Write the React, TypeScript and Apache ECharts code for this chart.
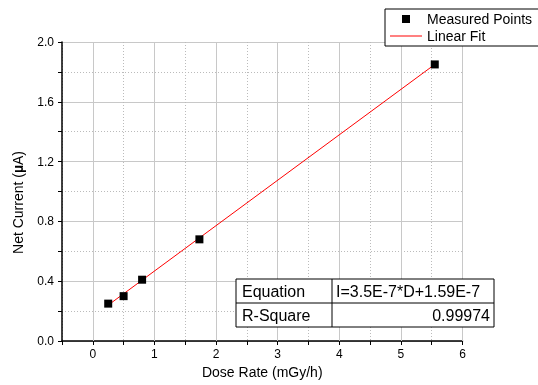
import React, { useEffect, useRef } from "react";
import * as echarts from "echarts";

const doseRate = [0.25, 0.5, 0.8, 1.73, 5.55];
const netCurrent = [0.25, 0.3, 0.41, 0.68, 1.85];
const fitDose = [0.25, 5.55];
const fitCurrent = [0.24, 1.85];
const xMajorTicks = [0, 1, 2, 3, 4, 5, 6];
const tableLabels = ["Equation", "R-Square"];
const tableValues = ["I=3.5E-7*D+1.59E-7", "0.99974"];

const FONT = "'Liberation Sans', Arial, sans-serif";

export default function App() {
  const ref = useRef<HTMLDivElement>(null);
  useEffect(() => {
    if (!ref.current) return;
    const chart = echarts.init(ref.current, null, { renderer: "svg" });
    const tx = 236, ty = 279, tw = 258, th = 48, tc = 96;
    chart.setOption({
      animation: false,
      textStyle: { fontFamily: FONT, color: "#000" },
      grid: { left: 62, right: 75.5, top: 42, bottom: 44, containLabel: false },
      legend: {
        orient: "vertical",
        left: 385,
        top: 9,
        padding: [3, 12, 3, 5],
        itemGap: 3,
        itemWidth: 32,
        itemHeight: 8,
        backgroundColor: "#fff",
        borderColor: "#000",
        borderWidth: 1,
        borderRadius: 0,
        textStyle: { fontSize: 14, color: "#000", fontFamily: FONT },
        data: [
          { name: "Measured Points", icon: "path://M0,0H10V10H0Z", itemStyle: { color: "#000", opacity: 1 } },
          { name: "Linear Fit", icon: "path://M0,0H32V1H0Z", itemStyle: { color: "#ff0000", opacity: 1 } },
        ],
      },
      xAxis: {
        type: "value",
        min: -0.5,
        max: 6,
        interval: 0.5,
        name: "Dose Rate (mGy/h)",
        nameLocation: "middle",
        nameGap: 18,
        nameTextStyle: { fontSize: 14, color: "#000", fontFamily: FONT },
        axisLine: { show: true, onZero: false, lineStyle: { color: "#000", width: 1.5 } },
        axisTick: { show: true, length: 4, lineStyle: { color: "#000" } },
        axisLabel: {
          fontSize: 12,
          color: "#000",
          margin: 7,
          formatter: (v: number) => (Math.abs(v - Math.round(v)) < 1e-6 && v >= 0 ? String(Math.round(v)) : ""),
        },
        splitLine: { show: true, lineStyle: { color: "#bbbbbb", type: [1, 2], width: 1 } },
      },
      yAxis: {
        type: "value",
        min: 0,
        max: 2,
        interval: 0.4,
        name: "Net Current ({b|µ}A)",
        nameLocation: "middle",
        nameGap: 37,
        nameTextStyle: {
          fontSize: 14,
          color: "#000",
          fontFamily: FONT,
          padding: [0, 22, 0, 0],
          rich: { b: { fontSize: 14, fontWeight: "bold", fontFamily: FONT, color: "#000" } },
        },
        axisLine: { show: true, onZero: false, lineStyle: { color: "#000", width: 1.5 } },
        axisTick: { show: true, length: 4, lineStyle: { color: "#000" } },
        minorTick: { show: true, splitNumber: 2, length: 4, lineStyle: { color: "#000" } },
        axisLabel: { fontSize: 12, color: "#000", margin: 8, formatter: (v: number) => v.toFixed(1) },
        splitLine: { show: true, lineStyle: { color: "#c8c8c8", width: 1 } },
        minorSplitLine: { show: true, lineStyle: { color: "#bbbbbb", type: [1, 2], width: 1 } },
      },
      series: [
        {
          name: "Measured Points",
          type: "scatter",
          symbol: "rect",
          symbolSize: 8,
          itemStyle: { color: "#000", opacity: 1 },
          z: 3,
          data: doseRate.map((d, i) => [d, netCurrent[i]]),
          markLine: {
            silent: true,
            z: 1,
            symbol: ["none", "none"],
            label: { show: false },
            lineStyle: { color: "#c8c8c8", type: "solid", width: 1 },
            emphasis: { disabled: true },
            data: xMajorTicks.map((v) => ({ xAxis: v })),
          },
        },
        {
          name: "Linear Fit",
          type: "line",
          showSymbol: false,
          symbol: "none",
          z: 2,
          lineStyle: { color: "#ff0000", width: 1 },
          itemStyle: { color: "#ff0000" },
          data: fitDose.map((d, i) => [d, fitCurrent[i]]),
        },
      ],
      graphic: [
        {
          type: "rect",
          x: tx, y: ty,
          shape: { x: 0, y: 0, width: tw, height: th },
          style: { fill: "#fff", stroke: "#000", lineWidth: 1 },
          z: 10,
        },
        {
          type: "line",
          shape: { x1: tx, y1: ty + th / 2, x2: tx + tw, y2: ty + th / 2 },
          style: { stroke: "#000", lineWidth: 1 },
          z: 11,
        },
        {
          type: "line",
          shape: { x1: tx + tc, y1: ty, x2: tx + tc, y2: ty + th },
          style: { stroke: "#000", lineWidth: 1 },
          z: 11,
        },
        ...tableLabels.map((t, i) => ({
          type: "text",
          x: tx + 6,
          y: ty + th / 4 + (i * th) / 2,
          z: 12,
          style: { text: t, font: `16px ${FONT}`, fill: "#000", verticalAlign: "middle" },
        })),
        ...tableValues.map((t, i) => ({
          type: "text",
          x: i === 0 ? tx + tc + 4 : tx + tw - 4,
          y: ty + th / 4 + (i * th) / 2,
          z: 12,
          style: {
            text: t,
            font: `16px ${FONT}`,
            fill: "#000",
            align: i === 0 ? "left" : "right",
            verticalAlign: "middle",
          },
        })),
      ],
    });
    return () => chart.dispose();
  }, []);
  return <div ref={ref} style={{ position: "fixed", left: 0, top: 0, width: 538, height: 385 }} />;
}
